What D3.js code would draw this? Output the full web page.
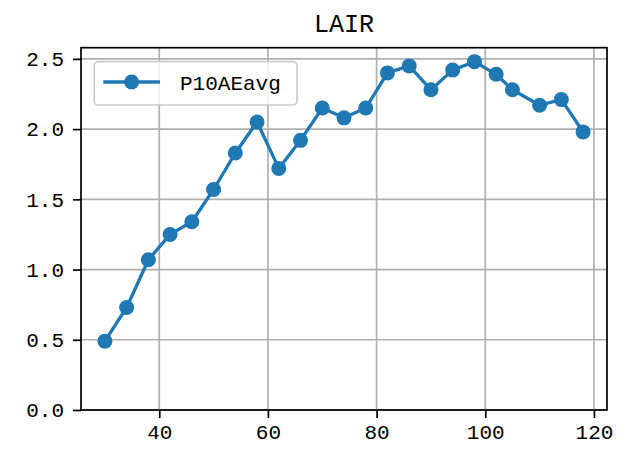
<!DOCTYPE html>
<html>
<head>
<meta charset="utf-8">
<script src="https://cdn.jsdelivr.net/npm/d3@7"></script>
<style>
  html, body { margin: 0; padding: 0; background: #fff; }
  svg { display: block; }
  text { font-family: "Liberation Mono", "DejaVu Sans Mono", monospace; }
</style>
</head>
<body>
<svg id="chart" width="632" height="456"></svg>
<script>
const title = "LAIR";
const seriesName = "P10AEavg";
const xValues = [30, 34, 38, 42, 46, 50, 54, 58, 62, 66, 70, 74, 78, 82, 86, 90, 94, 98, 102, 105, 110, 114, 118];
const yValues = [0.49, 0.73, 1.07, 1.25, 1.34, 1.57, 1.83, 2.05, 1.72, 1.92, 2.15, 2.08, 2.15, 2.40, 2.45, 2.28, 2.42, 2.48, 2.39, 2.28, 2.17, 2.21, 1.98];
const xTicks = [40, 60, 80, 100, 120];
const yTicks = [0.0, 0.5, 1.0, 1.5, 2.0, 2.5];

const color = "#1f77b4";
const mLeft = 81, mRight = 607, mTop = 47.7, mBottom = 410;
const fontSize = 21;

const svg = d3.select("#chart");
const data = xValues.map((x, i) => ({ x, y: yValues[i] }));

const xMin = d3.min(xValues), xMax = d3.max(xValues);
const xPad = (xMax - xMin) * 0.05;
const yMax = d3.max(yValues);
const yPad = (yMax - d3.min(yValues)) * 0.05;

const x = d3.scaleLinear().domain([xMin - xPad, xMax + xPad]).range([mLeft, mRight]);
const y = d3.scaleLinear().domain([0, yMax + yPad]).range([mBottom, mTop]);

// grid
const grid = svg.append("g");
grid.selectAll("line.gx").data(xTicks).join("line")
  .attr("x1", d => x(d)).attr("x2", d => x(d))
  .attr("y1", mTop).attr("y2", mBottom)
  .attr("stroke", "#b0b0b0").attr("stroke-width", 1.7);
grid.selectAll("line.gy").data(yTicks).join("line")
  .attr("x1", mLeft).attr("x2", mRight)
  .attr("y1", d => y(d)).attr("y2", d => y(d))
  .attr("stroke", "#b0b0b0").attr("stroke-width", 1.7);

// axes
const xAxis = d3.axisBottom(x).tickValues(xTicks).tickFormat(d3.format("d"))
  .tickSizeInner(8).tickSizeOuter(0).tickPadding(6);
const yAxis = d3.axisLeft(y).tickValues(yTicks).tickFormat(d3.format(".1f"))
  .tickSizeInner(8).tickSizeOuter(0).tickPadding(9);

const gx = svg.append("g").attr("transform", `translate(0,${mBottom})`).call(xAxis);
const gy = svg.append("g").attr("transform", `translate(${mLeft},0)`).call(yAxis);
[gx, gy].forEach(g => {
  g.select(".domain").remove();
  g.selectAll(".tick line").attr("stroke", "#000").attr("stroke-width", 1.7);
  g.selectAll(".tick text").attr("fill", "#000")
    .style("font-family", '"Liberation Mono", "DejaVu Sans Mono", monospace')
    .style("font-size", fontSize + "px");
});

// line + markers
const line = d3.line().x(d => x(d.x)).y(d => y(d.y));
svg.append("path").datum(data)
  .attr("d", line).attr("fill", "none")
  .attr("stroke", color).attr("stroke-width", 3.3)
  .attr("stroke-linejoin", "round").attr("stroke-linecap", "square");
svg.append("g").selectAll("circle").data(data).join("circle")
  .attr("cx", d => x(d.x)).attr("cy", d => y(d.y))
  .attr("r", 7.5).attr("fill", color);

// spines
svg.append("rect")
  .attr("x", mLeft).attr("y", mTop)
  .attr("width", mRight - mLeft).attr("height", mBottom - mTop)
  .attr("fill", "none").attr("stroke", "#000").attr("stroke-width", 1.7);

// title
svg.append("text")
  .attr("x", (mLeft + mRight) / 2).attr("y", 31.5)
  .attr("text-anchor", "middle")
  .style("font-size", "25px").attr("fill", "#000")
  .text(title);

// legend
const lg = svg.append("g");
lg.append("rect")
  .attr("x", 94.3).attr("y", 61.7).attr("width", 202.7).attr("height", 43.3)
  .attr("rx", 4).attr("fill", "#fff").attr("fill-opacity", 0.8)
  .attr("stroke", "#cccccc").attr("stroke-width", 1.7);
lg.append("line")
  .attr("x1", 103.3).attr("x2", 160).attr("y1", 82).attr("y2", 82)
  .attr("stroke", color).attr("stroke-width", 3.3);
lg.append("circle").attr("cx", 131.6).attr("cy", 82).attr("r", 7.5).attr("fill", color);
lg.append("text")
  .attr("x", 180).attr("y", 89.5)
  .style("font-size", fontSize + "px").attr("fill", "#000")
  .text(seriesName);
</script>
</body>
</html>
